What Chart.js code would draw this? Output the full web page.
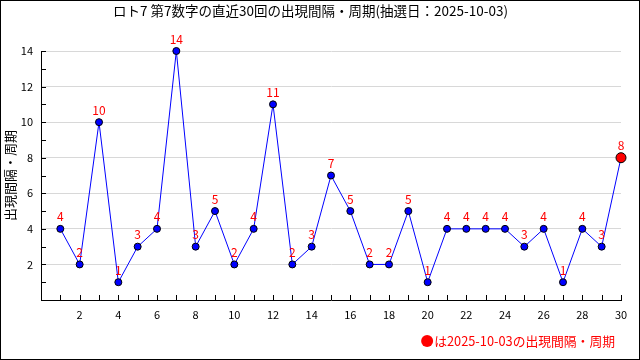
<!DOCTYPE html>
<html>
<head>
<meta charset="utf-8">
<script src="https://cdn.jsdelivr.net/npm/chart.js@4.4.0/dist/chart.umd.min.js"></script>
<style>
  html, body { margin: 0; padding: 0; background: #fff; }
  #wrap { width: 640px; height: 360px; }
</style>
</head>
<body>
<div id="wrap"><canvas id="c" width="640" height="360"></canvas></div>
<script>
// データ
const rounds = [1,2,3,4,5,6,7,8,9,10,11,12,13,14,15,16,17,18,19,20,21,22,23,24,25,26,27,28,29,30];
const intervals = [4,2,10,1,3,4,14,3,5,2,4,11,2,3,7,5,2,2,5,1,4,4,4,4,3,4,1,4,3,8];
const titleText = 'ロト7 第7数字の直近30回の出現間隔・周期(抽選日：2025-10-03)';
const yTitle = '出現間隔・周期';
const noteText = 'は2025-10-03の出現間隔・周期';

const FONT = '"Noto Sans CJK JP", "DejaVu Sans", sans-serif';
const last = intervals.length - 1;

// 点の上の数字、内向きの目盛り、枠線、注記
const extras = {
  id: 'extras',
  afterDatasetsDraw(chart) {
    const ctx = chart.ctx;
    const meta = chart.getDatasetMeta(0);
    const xs = chart.scales.x, ys = chart.scales.y;
    const area = chart.chartArea;
    ctx.save();
    // 目盛り
    ctx.strokeStyle = '#000';
    ctx.lineWidth = 1;
    ctx.beginPath();
    for (let v = 1; v <= 30; v++) {
      const px = Math.round(xs.getPixelForValue(v)) + 0.5;
      ctx.moveTo(px, area.bottom);
      ctx.lineTo(px, area.bottom - 5);
    }
    for (let v = 1; v <= 14; v++) {
      const py = Math.round(ys.getPixelForValue(v)) + 0.5;
      ctx.moveTo(area.left, py);
      ctx.lineTo(area.left + 5, py);
    }
    ctx.stroke();
    // 数字
    ctx.fillStyle = '#ff0000';
    ctx.font = '12px ' + FONT;
    ctx.textAlign = 'center';
    ctx.textBaseline = 'middle';
    meta.data.forEach((pt, i) => {
      ctx.fillText(String(intervals[i]), pt.x, pt.y - 12);
    });
    // 注記
    ctx.textAlign = 'right';
    ctx.font = '12.8px ' + FONT;
    ctx.fillText(noteText, 615, 341);
    const w = ctx.measureText(noteText).width;
    ctx.beginPath();
    ctx.arc(615 - w - 7, 341, 6, 0, Math.PI * 2);
    ctx.fill();
    // 枠
    ctx.strokeStyle = '#000';
    ctx.strokeRect(0.5, 0.5, 639, 359);
    ctx.restore();
  }
};

new Chart(document.getElementById('c'), {
  type: 'line',
  data: {
    labels: rounds,
    datasets: [{
      data: rounds.map((r, i) => ({x: r, y: intervals[i]})),
      borderColor: '#0000ff',
      borderWidth: 1,
      tension: 0,
      fill: false,
      clip: false,
      pointBackgroundColor: intervals.map((v, i) => i === last ? '#ff0000' : '#0000ff'),
      pointBorderColor: '#000',
      pointBorderWidth: 1,
      pointRadius: intervals.map((v, i) => i === last ? 5 : 3.5)
    }]
  },
  options: {
    responsive: false,
    animation: false,
    layout: {padding: {left: 0, right: 19, top: 0, bottom: 0}},
    plugins: {
      legend: {display: false},
      tooltip: {enabled: false},
      title: {
        display: true,
        text: titleText,
        color: '#000',
        font: {family: FONT, size: 13.5, weight: 'normal'},
        padding: {top: 3, bottom: 31.8}
      }
    },
    scales: {
      x: {
        type: 'linear',
        min: 0,
        max: 30,
        afterFit: s => { s.height = 60; },
        border: {color: '#000', width: 1},
        grid: {display: false, drawTicks: false},
        ticks: {
          stepSize: 1,
          autoSkip: false,
          maxRotation: 0,
          padding: 8,
          color: '#000',
          font: {family: FONT, size: 11},
          callback: v => (v > 0 && v % 2 === 0) ? String(v) : ''
        }
      },
      y: {
        min: 0,
        max: 14,
        afterFit: s => { s.width = 41; },
        border: {color: '#000', width: 1},
        grid: {
          drawTicks: false,
          color: c => (c.tick && c.tick.value > 0 && c.tick.value % 2 === 0) ? '#d8d8d8' : 'rgba(0,0,0,0)'
        },
        title: {
          display: true,
          text: yTitle,
          color: '#000',
          font: {family: FONT, size: 13},
          padding: {top: 2, bottom: 0}
        },
        ticks: {
          stepSize: 1,
          autoSkip: false,
          padding: 8,
          color: '#000',
          font: {family: FONT, size: 11},
          callback: v => (v > 0 && v % 2 === 0) ? String(v) : ''
        }
      }
    }
  },
  plugins: [extras]
});
</script>
</body>
</html>
